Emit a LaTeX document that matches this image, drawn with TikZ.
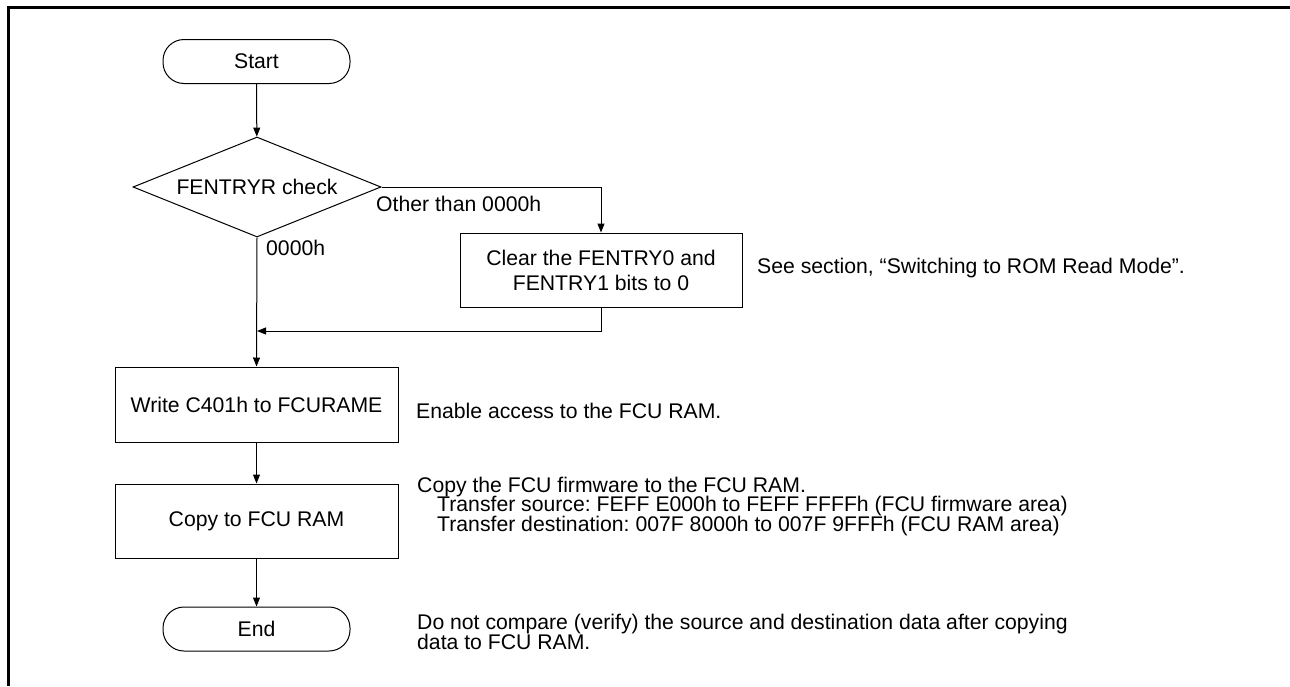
\documentclass[tikz,border=0pt]{standalone}
\usepackage{fontspec}
\setmainfont{Liberation Sans}
\usetikzlibrary{arrows.meta,shapes.geometric}
\frenchspacing
\begin{document}
\begin{tikzpicture}[x=1pt,y=-1pt,
  txt/.style={font=\fontsize{21.2}{20}\selectfont, inner sep=0pt},
  note/.style={txt, anchor=base west},
  procbox/.style={txt, draw, line width=1pt, rectangle, align=center, minimum width=283pt, minimum height=75pt},
  term/.style={txt, draw, line width=1pt, rectangle, rounded corners=21pt, minimum width=187pt, minimum height=44pt},
  decide/.style={txt, draw, line width=1pt, diamond, aspect=2.48, minimum width=248pt, minimum height=100pt},
  conn/.style={line width=1pt, -{Triangle[length=9pt,width=7pt]}},
  plain/.style={line width=1pt}]
\useasboundingbox (0,0) rectangle (1290,686);
% frame
\draw[line width=3pt] (8.5,686) -- (8.5,7.5) -- (1290,7.5);
% nodes
\node[term] (start) at (256.5,61.5) {Start};
\node[decide] (fen) at (257,187) {FENTRYR check};
\node[procbox, minimum width=282pt, minimum height=74pt, font=\fontsize{21.2}{25}\selectfont] (clear) at (601,270) {Clear the FENTRY0 and\\FENTRY1 bits to 0};
\node[procbox] (write) at (256.5,404.5) {Write C401h to FCURAME};
\node[procbox, minimum height=74pt] (copy) at (256.5,521) {Copy to FCU RAM};
\node[term] (end) at (256.5,629) {End};
\coordinate (join) at (257,331);
% connectors
\draw[conn] (start) -- (fen);
\draw[conn] (fen.east) -| (clear.north);
\draw[conn] (clear.south) |- (join);
\draw[conn] (fen.south) -- (write.north);
\draw[conn] (write) -- (copy);
\draw[conn] (copy) -- (end);
% labels
\node[note] (lother) at (376,211) {Other than 0000h};
\node[note] (lzero) at (266,255) {0000h};
% notes
\node[note] (n1) at (757,273) {See section, “Switching to ROM Read Mode”.};
\node[note] (n2) at (416,418) {Enable access to the FCU RAM.};
\node[note] (n3a) at (417,492) {Copy the FCU firmware to the FCU RAM.};
\node[note] (n3b) at (437,511.5) {Transfer source: FEFF E000h to FEFF FFFFh (FCU firmware area)};
\node[note] (n3c) at (437,531) {Transfer destination: 007F 8000h to 007F 9FFFh (FCU RAM area)};
\node[note] (n4a) at (417,629) {Do not compare (verify) the source and destination data after copying};
\node[note] (n4b) at (417,649) {data to FCU RAM.};
\end{tikzpicture}
\end{document}
